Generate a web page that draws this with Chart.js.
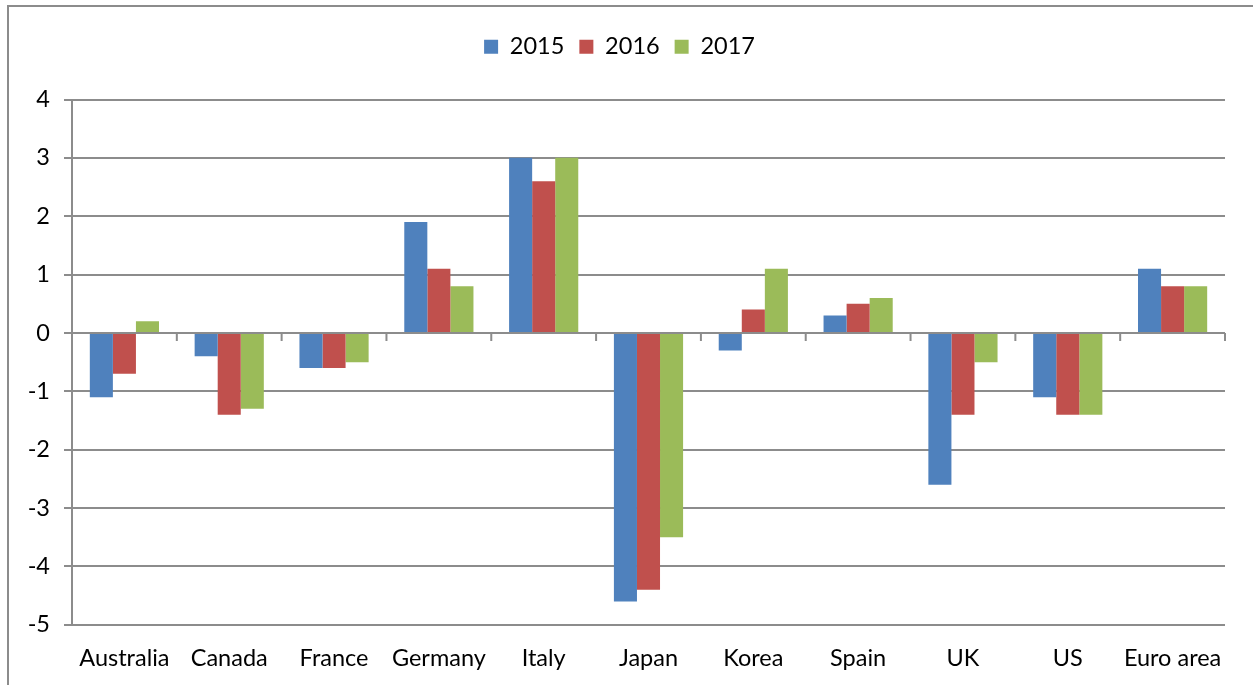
<!DOCTYPE html>
<html>
<head>
<meta charset="utf-8">
<script src="https://cdn.jsdelivr.net/npm/chart.js@4"></script>
<style>
  html, body { margin: 0; padding: 0; background: #fff; }
  #wrap { position: relative; width: 1253px; height: 685px; }
  #frame { position: absolute; left: 7px; top: 5px; width: 1246px; height: 680px;
           border-left: 2px solid #8c8c8c; border-top: 2px solid #8c8c8c; box-sizing: border-box; }
  canvas { position: absolute; left: 0; top: 0; }
</style>
</head>
<body>
<div id="wrap">
  <div id="frame"></div>
  <canvas id="barChart" width="1253" height="685"></canvas>
</div>
<script>
const countries = ['Australia', 'Canada', 'France', 'Germany', 'Italy', 'Japan', 'Korea', 'Spain', 'UK', 'US', 'Euro area'];
const years = ['2015', '2016', '2017'];
const values2015 = [-1.1, -0.4, -0.6, 1.9, 3.0, -4.6, -0.3, 0.3, -2.6, -1.1, 1.1];
const values2016 = [-0.7, -1.4, -0.6, 1.1, 2.6, -4.4, 0.4, 0.5, -1.4, -1.4, 0.8];
const values2017 = [0.2, -1.3, -0.5, 0.8, 3.0, -3.5, 1.1, 0.6, -0.5, -1.4, 0.8];
const colors = ['#4F81BD', '#C0504D', '#9BBB59'];

const gridColor = '#8c8c8c';
const fontSpec = { family: 'Lato', size: 23.5 };

// zero line with category tick marks, like the Excel axis
const zeroAxis = {
    id: 'zeroAxis',
    afterDatasetsDraw(chart) {
        const { ctx, scales: { x, y } } = chart;
        const y0 = y.getPixelForValue(0);
        ctx.save();
        ctx.strokeStyle = gridColor;
        ctx.lineWidth = 2;
        ctx.beginPath();
        ctx.moveTo(x.left, y0);
        ctx.lineTo(x.right, y0);
        for (let i = 0; i <= countries.length; i++) {
            const px = x.getPixelForValue(i - 0.5);
            ctx.moveTo(px, y0);
            ctx.lineTo(px, y0 + 8);
        }
        ctx.stroke();
        ctx.restore();
    }
};

// extra room under the legend
const legendGap = {
    id: 'legendGap',
    beforeInit(chart) {
        const origFit = chart.legend.fit;
        chart.legend.fit = function () {
            origFit.bind(chart.legend)();
            this.height += 31;
        };
    }
};

const ctx = document.getElementById('barChart').getContext('2d');
new Chart(ctx, {
    type: 'bar',
    data: {
        labels: countries,
        datasets: [values2015, values2016, values2017].map((vals, i) => ({
            label: years[i],
            data: vals,
            backgroundColor: colors[i],
            borderWidth: 0,
            categoryPercentage: 0.66,
            barPercentage: 1.0
        }))
    },
    options: {
        responsive: false,
        maintainAspectRatio: false,
        animation: false,
        layout: { padding: { left: 14, right: 28, top: 20, bottom: 0 } },
        plugins: {
            legend: {
                position: 'top',
                labels: {
                    boxWidth: 14,
                    boxHeight: 14,
                    padding: 15,
                    color: '#000',
                    font: fontSpec
                }
            },
            tooltip: { enabled: false }
        },
        scales: {
            x: {
                grid: { display: false },
                border: { display: false },
                ticks: { color: '#000', font: fontSpec, padding: 12 }
            },
            y: {
                min: -5,
                max: 4,
                afterFit: scale => { scale.width = 58; },
                ticks: {
                    stepSize: 1,
                    color: '#000',
                    padding: 14,
                    font: fontSpec
                },
                grid: { color: gridColor, lineWidth: 2, tickLength: 8 },
                border: { display: true, color: gridColor, width: 2 }
            }
        }
    },
    plugins: [zeroAxis, legendGap]
});
</script>
</body>
</html>
